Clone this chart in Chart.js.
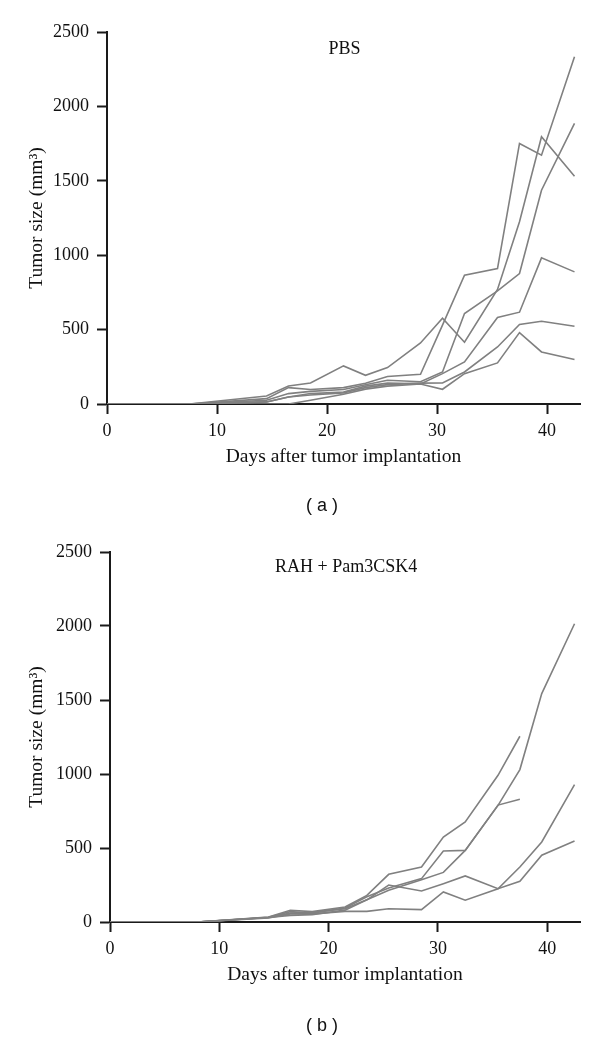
<!DOCTYPE html>
<html>
<head>
<meta charset="utf-8">
<title>Tumor growth curves</title>
<script src="https://cdn.jsdelivr.net/npm/chart.js@4"></script>
<style>
    body { margin: 0; background: #fff; }
    .panel { position: relative; width: 600px; }
    .panel canvas { display: block; }
    .panel-tag {
        position: absolute; left: 272px; width: 100px; top: 494px;
        text-align: center; font-family: "Liberation Sans", Arial, sans-serif;
        font-size: 18px; line-height: 22px; color: #111;
    }
</style>
</head>
<body>
<div class="panel">
    <canvas id="pbsChart" width="600" height="520"></canvas>
    <div class="panel-tag">( a )</div>
</div>
<div class="panel">
    <canvas id="rahChart" width="600" height="519"></canvas>
    <div class="panel-tag">( b )</div>
</div>
<script>
// Tumor size (mm3) per mouse

// measurement days
const daysPBS = [0, 7.5, 14.5, 16.5, 18.5, 21.5, 23.5, 25.5, 28.5, 30.5, 32.5, 35.5, 37.5, 39.5, 42.5];
const daysRAH = [0, 8, 14.5, 16.5, 18.5, 21.5, 23.5, 25.5, 28.5, 30.5, 32.5, 35.5, 37.5, 39.5, 42.5];

// (a) PBS
const pbsMouse1 = [0, 0, 54, 121, 141, 256, 193, 245, 410, 576, 415, 770, 1225, 1796, 1530];
const pbsMouse2 = [0, 0, 36, 110, 97, 110, 140, 185, 200, 530, 865, 910, 1751, 1672, 2334];
const pbsMouse3 = [0, 0, 25, 70, 85, 97, 130, 160, 150, 215, 608, 760, 877, 1437, 1886];
const pbsMouse4 = [0, 0, 14, 47, 70, 81, 120, 140, 135, 204, 283, 581, 617, 982, 888];
const pbsMouse5 = [0, 0, 14, 47, 60, 75, 110, 130, 140, 141, 215, 383, 534, 556, 523];
const pbsMouse6 = [0, 0, 0, 0, 25, 65, 100, 120, 134, 99, 204, 276, 480, 350, 299];

// (b) RAH + Pam3CSK4 (two mice stop at day 37.5)
const rahMouse1 = [0, 0, 30, 60, 65, 90, 150, 215, 286, 335, 484, 788, 1030, 1543, 2015];
const rahMouse2 = [0, 0, 34, 79, 70, 101, 180, 322, 372, 574, 676, 991, 1255, null, null];
const rahMouse3 = [0, 0, 32, 70, 60, 95, 170, 230, 293, 480, 484, 790, 829, null, null];
const rahMouse4 = [0, 0, 30, 45, 50, 80, 150, 250, 210, 259, 311, 225, 275, 451, 547];
const rahMouse5 = [0, 0, 28, 55, 55, 72, 72, 90, 84, 203, 147, 225, 372, 541, 928];

// axis ticks
const dayTicks = [0, 10, 20, 30, 40];
const sizeTicks = [0, 500, 1000, 1500, 2000, 2500];

const serifFont = '"Liberation Serif", "Times New Roman", serif';
const lineColor = '#808080';
const axisColor = '#1a1a1a';

function toPoints(days, values) {
    return values.map((v, i) => ({ x: days[i], y: v }));
}

// group name written inside the plot, near the top
const groupLabel = {
    id: 'groupLabel',
    afterDraw(chart, args, opts) {
        const { ctx, chartArea, scales } = chart;
        ctx.save();
        ctx.font = '18px ' + serifFont;
        ctx.fillStyle = '#111';
        ctx.textAlign = 'center';
        ctx.textBaseline = 'middle';
        ctx.fillText(opts.text, scales.x.getPixelForValue(opts.day), chartArea.top + opts.offset);
        ctx.restore();
    }
};

function buildChart(canvasId, days, series, opts) {
    const ctx = document.getElementById(canvasId).getContext('2d');
    return new Chart(ctx, {
        type: 'line',
        data: {
            datasets: series.map(values => ({
                data: toPoints(days, values),
                borderColor: lineColor,
                borderWidth: 1.6,
                pointRadius: 0,
                tension: 0,
                fill: false
            }))
        },
        options: {
            responsive: false,
            animation: false,
            layout: { padding: { top: 32, right: 20, bottom: opts.padBottom, left: 0 } },
            plugins: {
                legend: { display: false },
                tooltip: { enabled: false },
                groupLabel: { text: opts.label, day: 21.6, offset: opts.labelOffset }
            },
            scales: {
                x: {
                    type: 'linear',
                    min: 0,
                    max: 43,
                    afterBuildTicks: s => { s.ticks = dayTicks.map(v => ({ value: v })); },
                    afterFit: s => { s.height = 65; },
                    grid: { drawOnChartArea: false, drawTicks: true, tickLength: 10, tickWidth: 2, tickColor: axisColor },
                    border: { display: true, color: axisColor, width: 2 },
                    ticks: { color: '#111', font: { family: serifFont, size: 18 }, padding: 6, maxRotation: 0, autoSkip: false,
                             callback: v => String(v) },
                    title: { display: true, text: 'Days after tumor implantation', color: '#111', font: { family: serifFont, size: 19.5 }, padding: 0 }
                },
                y: {
                    min: 0,
                    max: 2500,
                    afterBuildTicks: s => { s.ticks = sizeTicks.map(v => ({ value: v })); },
                    afterFit: s => { s.width = opts.yWidth; },
                    grid: { drawOnChartArea: false, drawTicks: true, tickLength: 10, tickWidth: 2, tickColor: axisColor },
                    border: { display: true, color: axisColor, width: 2 },
                    ticks: { color: '#111', font: { family: serifFont, size: 18 }, padding: 8,
                             callback: v => String(v) },
                    title: { display: true, text: 'Tumor size (mm³)', color: '#111', font: { family: serifFont, size: 19.5 }, padding: { top: 25, bottom: 0 } }
                }
            }
        },
        plugins: [groupLabel]
    });
}

document.addEventListener('DOMContentLoaded', function () {
    buildChart('pbsChart', daysPBS,
        [pbsMouse1, pbsMouse2, pbsMouse3, pbsMouse4, pbsMouse5, pbsMouse6],
        { label: 'PBS', labelOffset: 17, padBottom: 51, yWidth: 107 });
    buildChart('rahChart', daysRAH,
        [rahMouse1, rahMouse2, rahMouse3, rahMouse4, rahMouse5],
        { label: 'RAH + Pam3CSK4', labelOffset: 15, padBottom: 52, yWidth: 110 });
});
</script>
</body>
</html>
